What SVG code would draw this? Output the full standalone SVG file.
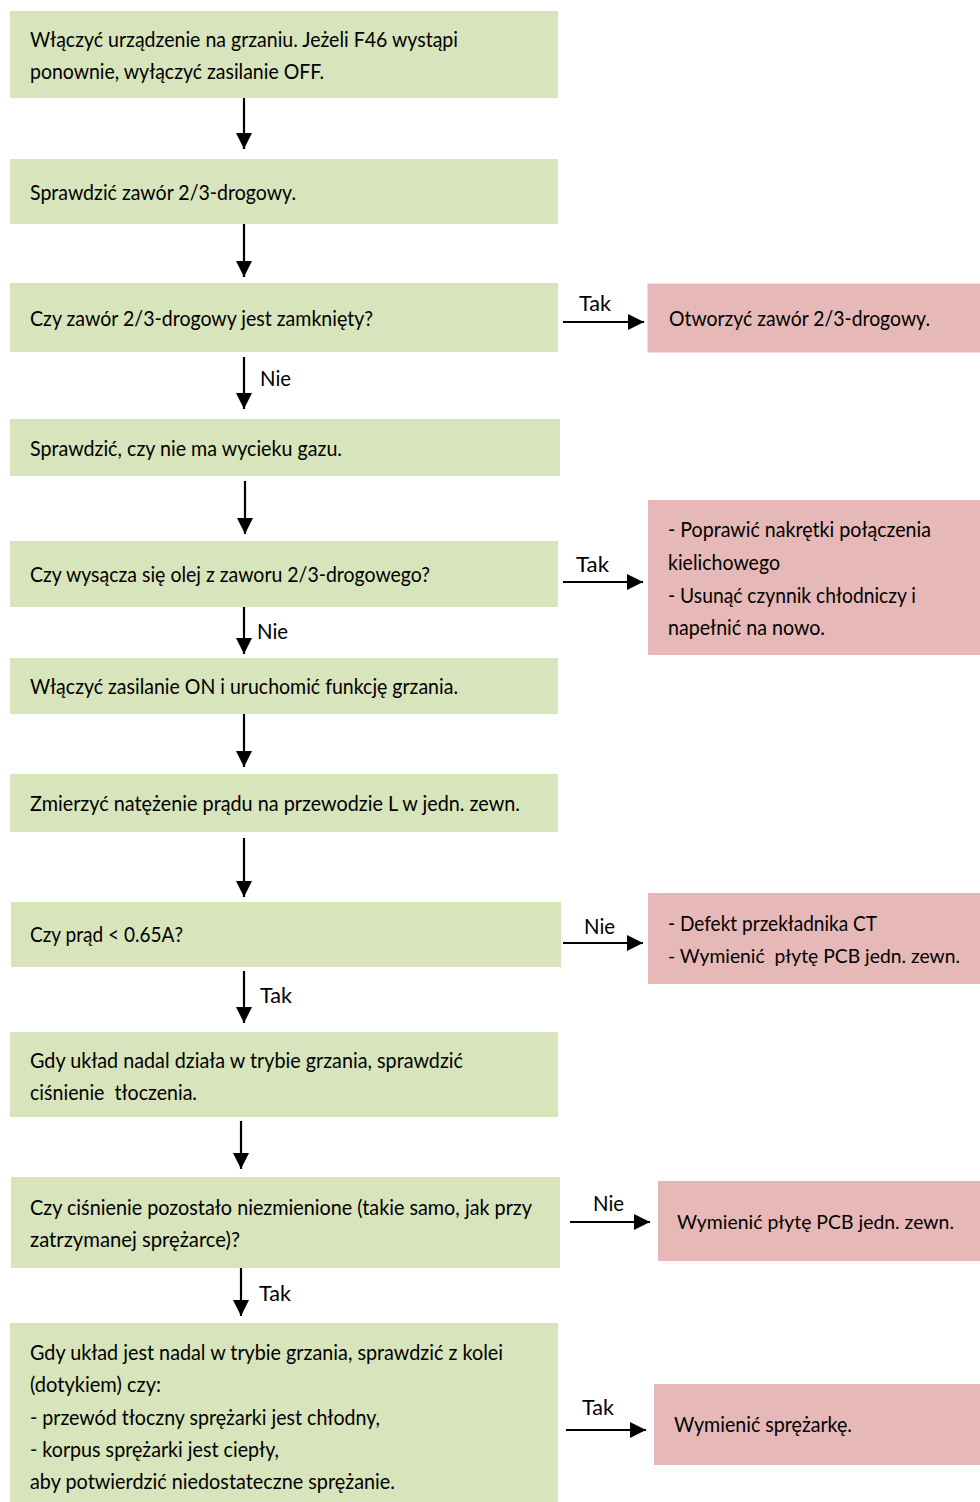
<svg xmlns="http://www.w3.org/2000/svg" width="980" height="1502" viewBox="0 0 980 1502">
<style>
.g{fill:#D8E4BC}
.p{fill:#E6B8B7}
.t{font-family:Lato,"Liberation Sans",sans-serif;font-size:22px;fill:#000}
.s{font-size:20px}
.c{stroke:#000;stroke-width:2.2;fill:none}
</style>
<defs>
<marker id="ah" markerUnits="userSpaceOnUse" markerWidth="18" markerHeight="16" refX="16" refY="8" orient="auto">
<path d="M0,0 L16,8 L0,16 Z" fill="#000"/>
</marker>
</defs>
<rect width="980" height="1502" fill="#fff"/>
<g id="connectors">
<line class="c" x1="244" y1="97" x2="244" y2="149" marker-end="url(#ah)"/>
<line class="c" x1="244" y1="223" x2="244" y2="277" marker-end="url(#ah)"/>
<line class="c" x1="244" y1="357" x2="244" y2="409" marker-end="url(#ah)"/>
<line class="c" x1="245" y1="481" x2="245" y2="534" marker-end="url(#ah)"/>
<line class="c" x1="244" y1="606" x2="244" y2="654" marker-end="url(#ah)"/>
<line class="c" x1="244" y1="714" x2="244" y2="767" marker-end="url(#ah)"/>
<line class="c" x1="244" y1="838" x2="244" y2="897" marker-end="url(#ah)"/>
<line class="c" x1="244" y1="971" x2="244" y2="1023" marker-end="url(#ah)"/>
<line class="c" x1="241" y1="1121" x2="241" y2="1169" marker-end="url(#ah)"/>
<line class="c" x1="241" y1="1268" x2="241" y2="1316" marker-end="url(#ah)"/>
<line class="c" x1="563" y1="322" x2="644" y2="322" marker-end="url(#ah)"/>
<line class="c" x1="563" y1="582" x2="643" y2="582" marker-end="url(#ah)"/>
<line class="c" x1="563" y1="943" x2="643" y2="943" marker-end="url(#ah)"/>
<line class="c" x1="570" y1="1222" x2="650" y2="1222" marker-end="url(#ah)"/>
<line class="c" x1="566" y1="1430" x2="646" y2="1430" marker-end="url(#ah)"/>
<text class="t" x="579" y="311" textLength="32" lengthAdjust="spacingAndGlyphs">Tak</text>
<text class="t" x="260" y="386" textLength="31" lengthAdjust="spacingAndGlyphs">Nie</text>
<text class="t" x="576" y="572" textLength="33" lengthAdjust="spacingAndGlyphs">Tak</text>
<text class="t" x="257" y="639" textLength="31" lengthAdjust="spacingAndGlyphs">Nie</text>
<text class="t" x="584" y="934" textLength="31" lengthAdjust="spacingAndGlyphs">Nie</text>
<text class="t" x="260" y="1003" textLength="32" lengthAdjust="spacingAndGlyphs">Tak</text>
<text class="t" x="593" y="1211" textLength="31" lengthAdjust="spacingAndGlyphs">Nie</text>
<text class="t" x="259" y="1301" textLength="32" lengthAdjust="spacingAndGlyphs">Tak</text>
<text class="t" x="582" y="1415" textLength="32" lengthAdjust="spacingAndGlyphs">Tak</text>
</g>
<g id="n1"><rect class="g" x="10" y="11" width="548" height="87"/>
<text class="t" x="30" y="47" textLength="428" lengthAdjust="spacingAndGlyphs">Włączyć urządzenie na grzaniu. Jeżeli F46 wystąpi</text>
<text class="t" x="30" y="79" textLength="294" lengthAdjust="spacingAndGlyphs">ponownie, wyłączyć zasilanie OFF.</text></g>
<g id="n2"><rect class="g" x="10" y="159" width="548" height="65"/>
<text class="t" x="30" y="200" textLength="266" lengthAdjust="spacingAndGlyphs">Sprawdzić zawór 2/3-drogowy.</text></g>
<g id="n3"><rect class="g" x="10" y="283" width="548" height="69"/>
<text class="t" x="30" y="326" textLength="343" lengthAdjust="spacingAndGlyphs">Czy zawór 2/3-drogowy jest zamknięty?</text></g>
<g id="p1"><rect class="p" x="647.5" y="283.5" width="333" height="69" stroke="#F4DCDB" stroke-width="1" stroke-dasharray="1.5,1.5"/>
<text class="t" x="669" y="326" textLength="261" lengthAdjust="spacingAndGlyphs">Otworzyć zawór 2/3-drogowy.</text></g>
<g id="n4"><rect class="g" x="10" y="419" width="550" height="57"/>
<text class="t" x="30" y="456" textLength="312" lengthAdjust="spacingAndGlyphs">Sprawdzić, czy nie ma wycieku gazu.</text></g>
<g id="n5"><rect class="g" x="10" y="541" width="548" height="66"/>
<text class="t" x="30" y="582" textLength="400" lengthAdjust="spacingAndGlyphs">Czy wysącza się olej z zaworu 2/3-drogowego?</text></g>
<g id="p2"><rect class="p" x="648" y="500" width="332" height="155"/>
<text class="t" x="668" y="537" textLength="263" lengthAdjust="spacingAndGlyphs">- Poprawić nakrętki połączenia</text>
<text class="t" x="668" y="570" textLength="112" lengthAdjust="spacingAndGlyphs">kielichowego</text>
<text class="t" x="668" y="603" textLength="248" lengthAdjust="spacingAndGlyphs">- Usunąć czynnik chłodniczy i</text>
<text class="t" x="668" y="635" textLength="157" lengthAdjust="spacingAndGlyphs">napełnić na nowo.</text></g>
<g id="n6"><rect class="g" x="10" y="658" width="548" height="56"/>
<text class="t" x="30" y="694" textLength="428" lengthAdjust="spacingAndGlyphs">Włączyć zasilanie ON i uruchomić funkcję grzania.</text></g>
<g id="n7"><rect class="g" x="10" y="774" width="548" height="58"/>
<text class="t" x="30" y="811" textLength="490" lengthAdjust="spacingAndGlyphs">Zmierzyć natężenie prądu na przewodzie L w jedn. zewn.</text></g>
<g id="n8"><rect class="g" x="11" y="902" width="550" height="65"/>
<text class="t" x="30" y="942" textLength="153" lengthAdjust="spacingAndGlyphs">Czy prąd &lt; 0.65A?</text></g>
<g id="p3"><rect class="p" x="648" y="893" width="332" height="91"/>
<text class="t" x="668" y="931" textLength="209" lengthAdjust="spacingAndGlyphs">- Defekt przekładnika CT</text>
<text class="t s" x="668" y="963" textLength="292" lengthAdjust="spacingAndGlyphs" xml:space="preserve">- Wymienić  płytę PCB jedn. zewn.</text></g>
<g id="n9"><rect class="g" x="10" y="1032" width="548" height="85"/>
<text class="t" x="30" y="1068" textLength="433" lengthAdjust="spacingAndGlyphs">Gdy układ nadal działa w trybie grzania, sprawdzić</text>
<text class="t" x="30" y="1100" textLength="167" lengthAdjust="spacingAndGlyphs" xml:space="preserve">ciśnienie  tłoczenia.</text></g>
<g id="n10"><rect class="g" x="11" y="1177" width="549" height="91"/>
<text class="t" x="30" y="1215" textLength="502" lengthAdjust="spacingAndGlyphs">Czy ciśnienie pozostało niezmienione (takie samo, jak przy</text>
<text class="t" x="30" y="1247" textLength="210" lengthAdjust="spacingAndGlyphs">zatrzymanej sprężarce)?</text></g>
<g id="p4"><rect class="p" x="658" y="1181" width="322" height="80"/>
<text class="t s" x="677" y="1229" textLength="277" lengthAdjust="spacingAndGlyphs">Wymienić płytę PCB jedn. zewn.</text></g>
<g id="n11"><rect class="g" x="10" y="1323" width="548" height="179"/>
<text class="t" x="30" y="1360" textLength="473" lengthAdjust="spacingAndGlyphs">Gdy układ jest nadal w trybie grzania, sprawdzić z kolei</text>
<text class="t" x="30" y="1392" textLength="131" lengthAdjust="spacingAndGlyphs">(dotykiem) czy:</text>
<text class="t" x="30" y="1425" textLength="350" lengthAdjust="spacingAndGlyphs">- przewód tłoczny sprężarki jest chłodny,</text>
<text class="t" x="30" y="1457" textLength="249" lengthAdjust="spacingAndGlyphs">- korpus sprężarki jest ciepły,</text>
<text class="t" x="30" y="1489" textLength="365" lengthAdjust="spacingAndGlyphs">aby potwierdzić niedostateczne sprężanie.</text></g>
<g id="p5"><rect class="p" x="654" y="1384" width="326" height="81"/>
<text class="t" x="674" y="1432" textLength="178" lengthAdjust="spacingAndGlyphs">Wymienić sprężarkę.</text></g>
</svg>
